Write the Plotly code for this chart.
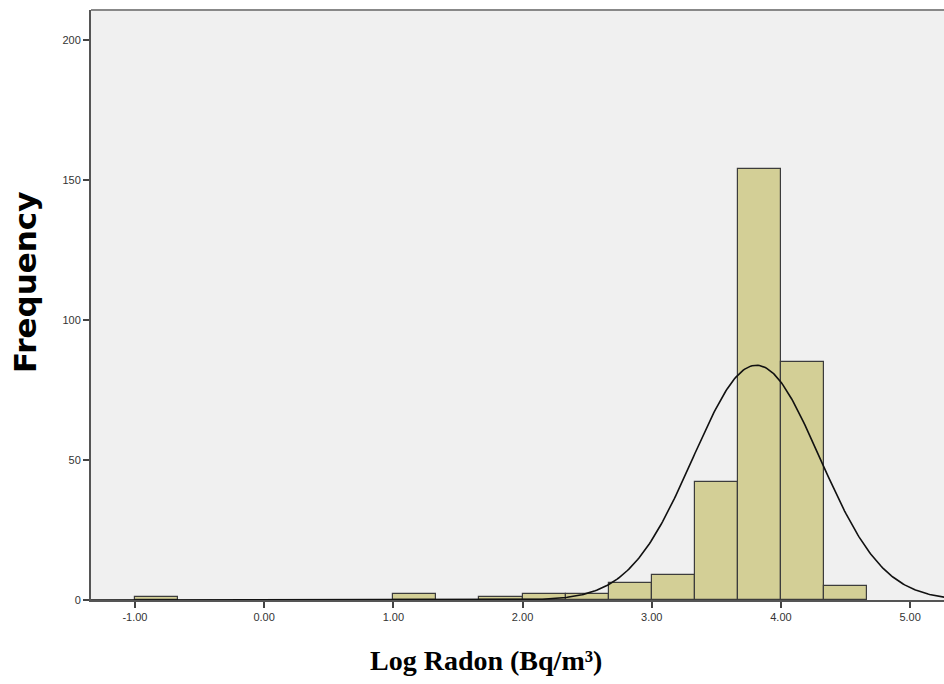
import numpy as np
import plotly.graph_objects as go

# Histogram bins (left edges, width 1/3) and counts
bin_left = [-1.0, 1.0, 1.6667, 2.0, 2.3333, 2.6667, 3.0, 3.3333, 3.6667, 4.0, 4.3333]
counts = [1, 2, 1, 2, 2, 6, 9, 42, 154, 85, 5]
bin_width = 1.0 / 3.0

# Fitted normal curve parameters
mean_val = 3.81
sd_val = 0.49
n_total = sum(counts)

x_ticks = [-1, 0, 1, 2, 3, 4, 5]
x_tick_labels = ["-1.00", "0.00", "1.00", "2.00", "3.00", "4.00", "5.00"]
y_ticks = [0, 50, 100, 150, 200]

centers = [b + bin_width / 2 for b in bin_left]

xs = np.linspace(-1.4, 5.4, 600)
ys = n_total * bin_width / (sd_val * np.sqrt(2 * np.pi)) * np.exp(-0.5 * ((xs - mean_val) / sd_val) ** 2)

fig = go.Figure()
fig.add_trace(go.Bar(
    x=centers, y=counts, width=[bin_width] * len(counts),
    marker=dict(color="#d3cf96", line=dict(color="#3c3c3c", width=1.2)),
    showlegend=False, hoverinfo="x+y"))
fig.add_trace(go.Scatter(
    x=xs, y=ys, mode="lines", line=dict(color="#111111", width=1.6),
    showlegend=False, hoverinfo="skip"))

tick_font = dict(family="Liberation Sans, Arial", size=11, color="#333333")

fig.update_layout(
    width=944, height=684,
    margin=dict(l=91, r=0, t=10, b=84),
    paper_bgcolor="white", plot_bgcolor="#f0f0f0",
    bargap=0,
    xaxis=dict(range=[-1.34, 5.262], tickvals=x_ticks, ticktext=x_tick_labels,
               showgrid=False, zeroline=False, showline=True, linecolor="#555555", linewidth=2,
               ticks="outside", ticklen=6, tickwidth=1.5, tickcolor="#444444",
               tickfont=tick_font),
    yaxis=dict(range=[0, 210.7], tickvals=y_ticks,
               showgrid=False, zeroline=False, showline=True, linecolor="#555555", linewidth=2,
               ticks="outside", ticklen=6, tickwidth=1.5, tickcolor="#444444",
               tickfont=tick_font),
    shapes=[dict(type="line", xref="paper", yref="paper", x0=0, x1=1, y0=1, y1=1,
                 line=dict(color="#888888", width=2))],
    annotations=[
        dict(text="<b>Frequency</b>", xref="paper", yref="paper",
             x=-(91 - 25) / 853, y=(600 - 283) / 590, textangle=-90, showarrow=False,
             xanchor="center", yanchor="middle",
             font=dict(family="DejaVu Sans", size=31, color="black")),
        dict(text="<b>Log Radon (Bq/m³)</b>", xref="paper", yref="paper",
             x=(486 - 91) / 853, y=-(660 - 600) / 590, showarrow=False,
             xanchor="center", yanchor="middle",
             font=dict(family="Liberation Serif", size=28, color="black")),
    ],
)

fig.write_html("out.html")
